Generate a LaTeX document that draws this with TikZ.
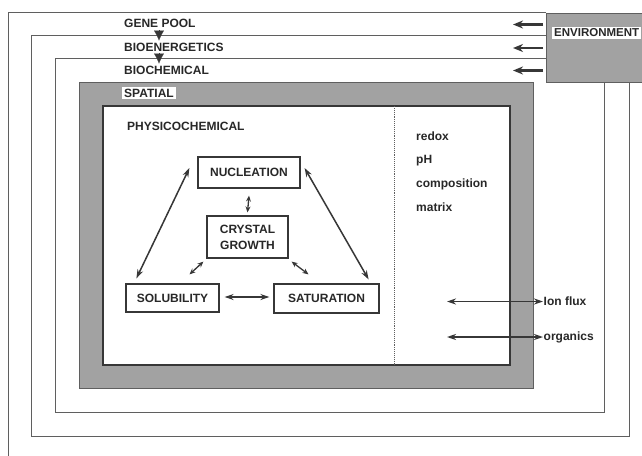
\documentclass[tikz,border=0pt]{standalone}
\usepackage{fontspec}
\setmainfont{Liberation Sans}
\usetikzlibrary{arrows.meta}
\definecolor{band}{RGB}{162,162,162}
\definecolor{ink}{RGB}{55,55,55}
\definecolor{txt}{RGB}{40,40,40}
\tikzset{
  lbl/.style={font=\fontsize{12}{16}\selectfont\bfseries, inner sep=1pt, anchor=west, text=txt},
  framed/.style={draw=ink!80, line width=1pt},
  procbox/.style={draw=ink, line width=1.2pt, fill=white, font=\fontsize{12}{16}\selectfont\bfseries,
    text=txt, align=center, inner sep=0pt},
  dbl/.style={{Stealth[length=9pt,width=6pt]}-{Stealth[length=9pt,width=6pt]}, line width=1.5pt, draw=ink},
  smalldbl/.style={{Stealth[length=6pt,width=5pt]}-{Stealth[length=6pt,width=5pt]}, line width=1.3pt, draw=ink},
  envarrow/.style={-{Stealth[length=10pt,width=8pt]}, line width=2.4pt, draw=ink},
  downtri/.style={-{Latex[length=10pt,width=10pt]}, line width=0.1pt, draw=ink}
}
\begin{document}
\begin{tikzpicture}[x=1pt,y=-1pt]
\useasboundingbox (0,0) rectangle (642,455);
\clip (0,0) rectangle (642,455);
\fill[white] (0,0) rectangle (642,455);

% nested frames
\draw[framed] (546,12) -- (8,12) -- (8,470);
\draw[framed] (546,35) -- (31,35) -- (31,436) -- (629,436) -- (629,82);
\draw[framed] (546,58) -- (55,58) -- (55,412) -- (604,412) -- (604,82);

% spatial band and physicochemical box
\draw[fill=band, draw=ink!80, line width=1pt] (79,82) rectangle (533,388);
\draw[fill=white, draw=ink, line width=1.2pt] (103,106) rectangle (510,365);
\draw[densely dotted, draw=ink!80, line width=0.9pt] (394,106) -- (394,365);

% environment
\node[draw=ink!80, fill=band, line width=1pt, minimum width=120pt, minimum height=69pt,
      anchor=north west, inner sep=0pt] (env) at (546,13) {};
\node[lbl, fill=white, inner sep=2pt, font=\fontsize{11.5}{14}\selectfont\bfseries] (envlbl) at (552,33) {ENVIRONMENT};

% level labels
\node[lbl] (gp) at (123,23.5) {GENE POOL};
\node[lbl] (be) at (123,47) {BIOENERGETICS};
\node[lbl] (bc) at (123,70) {BIOCHEMICAL};
\node[lbl, fill=white, inner sep=2pt] (sp) at (122,93) {SPATIAL};
\node[lbl] (pc) at (126,126) {PHYSICOCHEMICAL};

\draw[downtri] ([xshift=36pt,yshift=-1pt]gp.south west) -- ([xshift=36pt,yshift=1pt]be.north west);
\draw[downtri] ([xshift=36pt,yshift=-1pt]be.south west) -- ([xshift=36pt,yshift=1pt]bc.north west);

% environment arrows
\draw[envarrow] ([xshift=-3pt,yshift=23.5pt]env.west) -- ++(-30,0);
\draw[envarrow] ([xshift=-3pt]env.west) -- ++(-30,0);
\draw[envarrow] ([xshift=-3pt,yshift=-22.5pt]env.west) -- ++(-30,0);

% process boxes
\node[procbox, minimum width=102pt, minimum height=31pt] (nuc) at (249,172.5) {NUCLEATION};
\node[procbox, minimum width=81pt, minimum height=42pt] (cg) at (247.5,237) {CRYSTAL\\GROWTH};
\node[procbox, minimum width=93pt, minimum height=28pt] (sol) at (172.5,298) {SOLUBILITY};
\node[procbox, minimum width=105pt, minimum height=29pt] (sat) at (326.5,298.5) {SATURATION};

\draw[dbl] ([xshift=-8pt,yshift=4.5pt]nuc.west) -- ([xshift=11pt,yshift=5pt]sol.north west);
\draw[dbl] ([xshift=4pt,yshift=4.5pt]nuc.east) -- ([xshift=-11pt,yshift=4pt]sat.north east);
\draw[dbl] ([xshift=5pt,yshift=1pt]sol.east) -- ([xshift=-4pt,yshift=1.5pt]sat.west);
\draw[smalldbl] ([yshift=-7pt]nuc.south) -- ([yshift=3pt]cg.north);
\draw[smalldbl] ([xshift=-3pt,yshift=-3pt]cg.south west) -- ([xshift=17pt,yshift=9pt]sol.north);
\draw[smalldbl] ([xshift=3pt,yshift=-3pt]cg.south east) -- ([xshift=-18pt,yshift=9pt]sat.north);

% conditions
\node[lbl] (redox) at (415,136.5) {redox};
\node[lbl] (ph) at (415,160.5) {pH};
\node[lbl] (comp) at (415,184) {composition};
\node[lbl] (matrix) at (415,207.5) {matrix};

\node[lbl, inner sep=0.5pt] (ion) at (543,301.5) {Ion flux};
\node[lbl, inner sep=0.5pt] (org) at (543,337) {organics};
\coordinate (ionend) at (447,301.5);
\coordinate (orgend) at (447,337);
\draw[dbl] (ionend) -- (ion.west);
\draw[dbl] (orgend) -- (org.west);
\end{tikzpicture}
\end{document}
